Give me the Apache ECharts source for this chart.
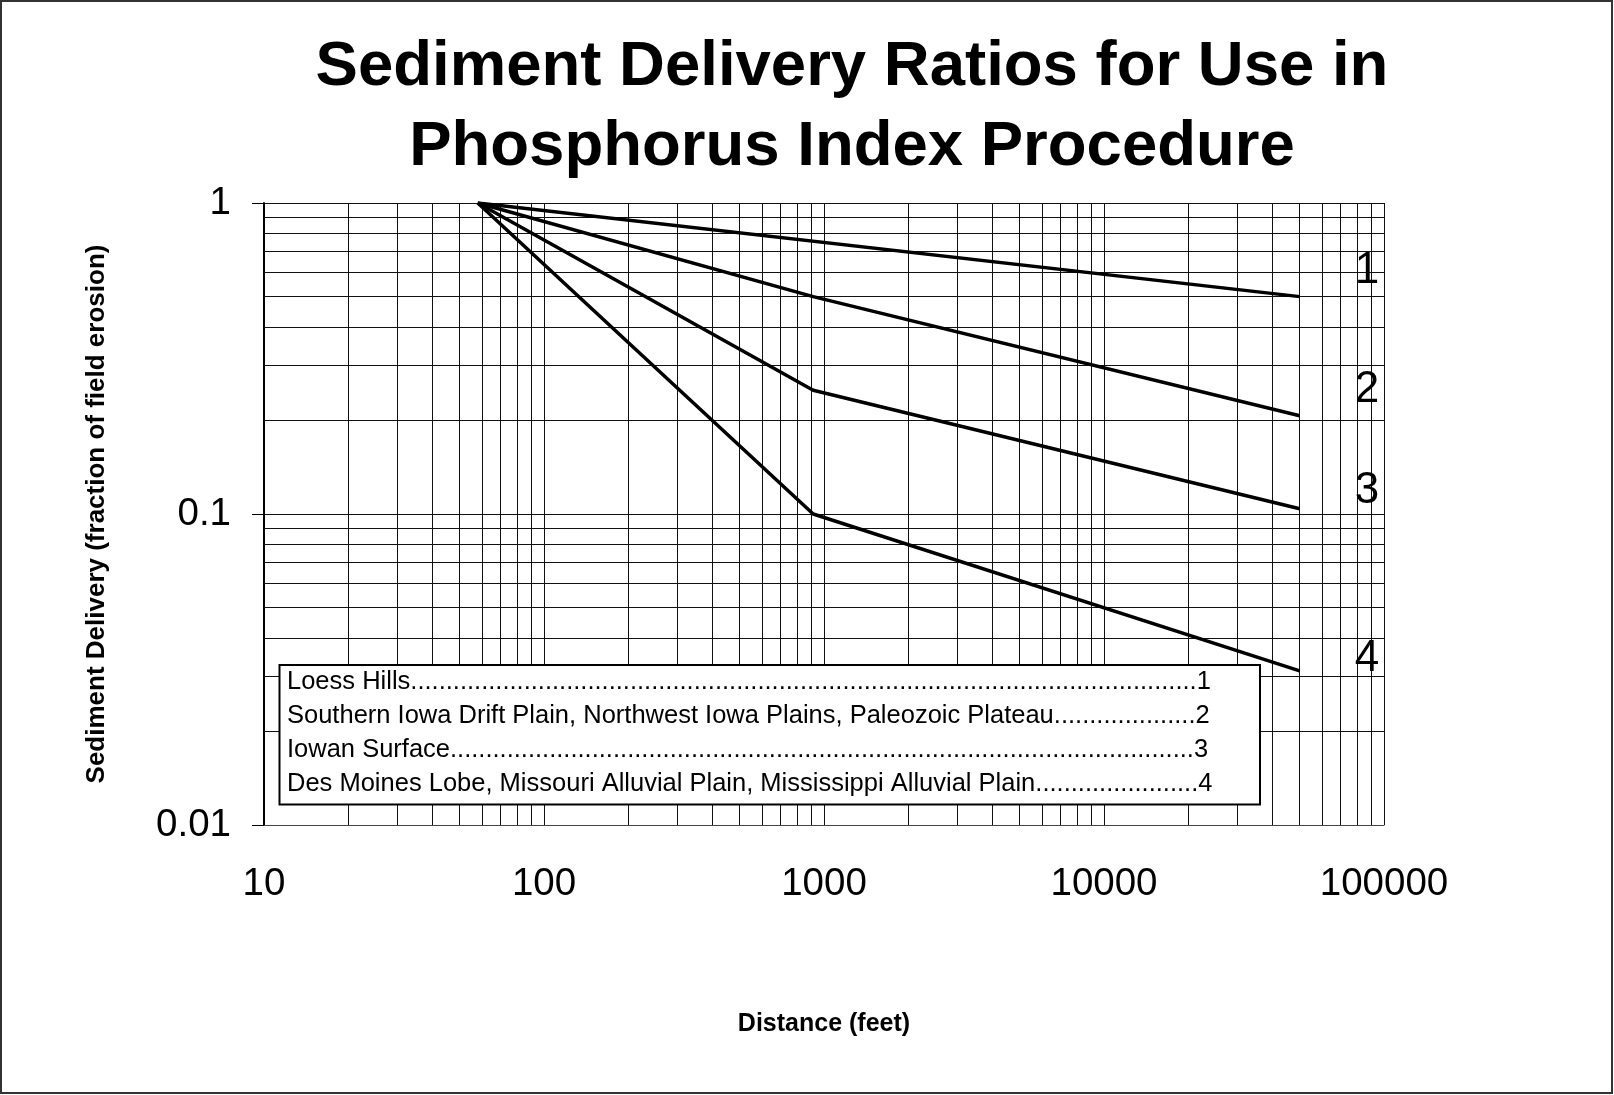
<!DOCTYPE html>
<html>
<head>
<meta charset="utf-8">
<script src="https://cdn.jsdelivr.net/npm/echarts@6/dist/echarts.min.js"></script>
<style>
html,body{margin:0;padding:0;background:#fff;}
#c{width:1614px;height:1095px;}
</style>
</head>
<body>
<div id="c"></div>
<script>
// ---------- data ----------
const titleText = 'Sediment Delivery Ratios for Use in\nPhosphorus Index Procedure';
const xAxisName = 'Distance (feet)';
const yAxisName = 'Sediment Delivery (fraction of field erosion)';
const regionNames = [
  'Loess Hills',
  'Southern Iowa Drift Plain, Northwest Iowa Plains, Paleozoic Plateau',
  'Iowan Surface',
  'Des Moines Lobe, Missouri Alluvial Plain, Mississippi Alluvial Plain'
];
const curveIds = ['1', '2', '3', '4'];
const curve1 = [[58, 1], [50000, 0.5]];
const curve2 = [[58, 1], [915, 0.5], [50000, 0.207]];
const curve3 = [[58, 1], [915, 0.25], [50000, 0.104]];
const curve4 = [[58, 1], [915, 0.1], [50000, 0.0313]];
const xTickLabels = ['10', '100', '1000', '10000', '100000'];
const yTickLabels = ['0.01', '0.1', '1'];
const xMinorGrid = [20,30,40,50,60,70,80,90, 200,300,400,500,600,700,800,900,
  2000,3000,4000,5000,6000,7000,8000,9000, 20000,30000,40000,50000,60000,70000,80000,90000];
const yMinorGrid = [0.02,0.03,0.04,0.05,0.06,0.07,0.08,0.09, 0.2,0.3,0.4,0.5,0.6,0.7,0.8,0.9];

// ---------- layout / style ----------
const FONT = "'Liberation Sans', Arial, sans-serif";
const gridBox = {left: 264, top: 203, right: 1614 - 1384, bottom: 1095 - 825};
const curveLabelPos = [[1367, 271], [1367, 390], [1367, 491], [1367, 659]];
const legendBox = {x: 279.5, y: 665, w: 980.5, h: 139.5};
const legendRowsY = [682, 715.5, 749.5, 783.5];
const legendFontSize = 25.5;
const legendTextX = 287;
const legendNumRight = 1214;

const curves = [curve1, curve2, curve3, curve4];

// Build legend rows with dot leaders using text measurement
const mctx = document.createElement('canvas').getContext('2d');
mctx.font = legendFontSize + 'px ' + FONT;
const dotW = mctx.measureText('.').width;
function leaderText(name, id) {
  const avail = legendNumRight - legendTextX - mctx.measureText(name).width - mctx.measureText(id).width;
  const n = Math.max(0, Math.floor(avail / dotW));
  return name + '.'.repeat(n) + id;
}

const chart = echarts.init(document.getElementById('c'), null, {renderer: 'canvas'});

const series = curves.map((d, i) => ({
  name: regionNames[i],
  type: 'line',
  data: d,
  symbol: 'none',
  lineStyle: {color: '#000', width: 3.5},
  z: 5,
  silent: true
}));

series.push({
  name: 'grid',
  type: 'line',
  data: [[58, 1]],
  symbol: 'none',
  lineStyle: {opacity: 0},
  silent: true,
  z: 1,
  markLine: {
    silent: true,
    symbol: ['none', 'none'],
    label: {show: false},
    lineStyle: {color: '#111', width: 1, type: 'solid'},
    emphasis: {disabled: true},
    data: xMinorGrid.map(v => ({xAxis: v})).concat(yMinorGrid.map(v => ({yAxis: v})))
  }
});

const graphics = [
  {
    type: 'rect',
    shape: {x: 1, y: 1, width: 1611, height: 1092},
    style: {fill: 'none', stroke: '#333', lineWidth: 2},
    silent: true, z: 100
  },
  {
    type: 'rect',
    shape: {x: legendBox.x, y: legendBox.y, width: legendBox.w, height: legendBox.h},
    style: {fill: '#fff', stroke: '#000', lineWidth: 2},
    silent: true, z: 100
  }
];
regionNames.forEach((name, i) => {
  graphics.push({
    type: 'text',
    x: legendTextX, y: legendRowsY[i],
    style: {
      text: leaderText(name, curveIds[i]),
      font: legendFontSize + 'px ' + FONT,
      fill: '#000',
      align: 'left',
      verticalAlign: 'middle'
    },
    silent: true, z: 101
  });
});
curveIds.forEach((id, i) => {
  graphics.push({
    type: 'text',
    x: curveLabelPos[i][0], y: curveLabelPos[i][1],
    style: {
      text: id,
      font: '44px ' + FONT,
      fill: '#000',
      align: 'center',
      verticalAlign: 'middle'
    },
    silent: true, z: 101
  });
});

const option = {
  animation: false,
  backgroundColor: '#fff',
  title: {
    text: titleText,
    left: 847,
    top: 22,
    textAlign: 'center',
    textStyle: {
      fontFamily: FONT,
      fontWeight: 'bold',
      fontSize: 63.5,
      lineHeight: 80,
      color: '#000'
    }
  },
  grid: Object.assign({containLabel: false}, gridBox),
  xAxis: {
    type: 'log',
    logBase: 10,
    min: 10,
    max: 100000,
    name: xAxisName,
    nameLocation: 'middle',
    nameGap: 187,
    nameTextStyle: {fontFamily: FONT, fontWeight: 'bold', fontSize: 25, color: '#000', verticalAlign: 'top'},
    axisLine: {show: true, lineStyle: {color: '#444', width: 1}},
    axisTick: {show: false},
    splitLine: {show: true, lineStyle: {color: '#111', width: 1}},
    axisLabel: {
      margin: 40,
      fontFamily: FONT,
      fontSize: 38.5,
      color: '#000',
      formatter: v => xTickLabels[Math.round(Math.log10(v)) - 1]
    }
  },
  yAxis: {
    type: 'log',
    logBase: 10,
    min: 0.01,
    max: 1,
    name: yAxisName,
    nameLocation: 'middle',
    nameGap: 154,
    nameTextStyle: {fontFamily: FONT, fontWeight: 'bold', fontSize: 26, color: '#000'},
    axisLine: {show: true, lineStyle: {color: '#000', width: 2}},
    axisTick: {show: true, inside: false, length: 12, lineStyle: {color: '#000', width: 1}},
    splitLine: {show: true, lineStyle: {color: '#111', width: 1}},
    axisLabel: {
      margin: 33,
      fontFamily: FONT,
      fontSize: 38.5,
      color: '#000',
      formatter: v => yTickLabels[Math.round(Math.log10(v)) + 2]
    }
  },
  series: series,
  graphic: graphics
};
chart.setOption(option);
</script>
</body>
</html>
